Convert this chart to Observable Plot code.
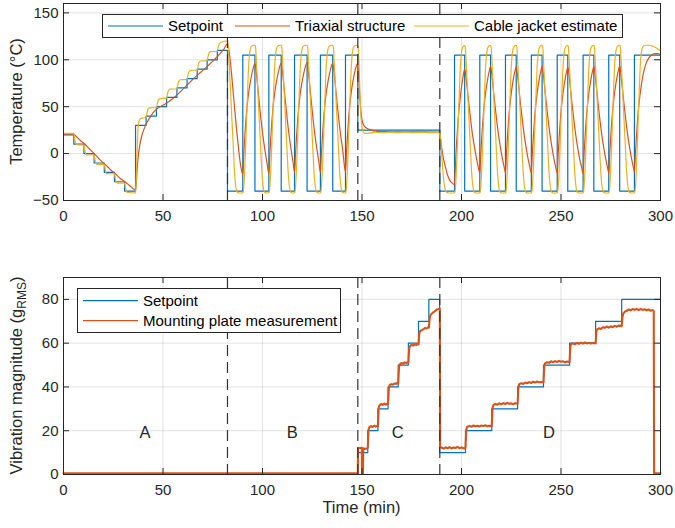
<!DOCTYPE html>
<html><head><meta charset="utf-8">
<script src="https://cdn.jsdelivr.net/npm/d3@7"></script>
<script src="https://cdn.jsdelivr.net/npm/@observablehq/plot@0.6"></script>
<style>
body{margin:0;background:#fff;}
#wrap{position:relative;width:675px;height:528px;font-family:"Liberation Sans",Arial,Helvetica,sans-serif;}
#wrap svg{position:absolute;left:0;overflow:visible;}
</style></head><body><div id="wrap"></div>
<script>
// ---------- data ----------
const timeTicks = [0, 50, 100, 150, 200, 250, 300];
const tempTicks = [-50, 0, 50, 100, 150];
const vibTicks = [0, 20, 40, 60, 80];
const phaseBounds = [82.4, 147.9, 189.1];
const phaseNames = ["A", "B", "C", "D"];
const phaseNameT = [41, 115, 168, 244];
const phaseNameV = [19, 19, 19, 19];
const tempLegend = ["Setpoint", "Triaxial structure", "Cable jacket estimate"];
const vibLegend = ["Setpoint", "Mounting plate measurement"];

const tempSetpoint = [
[0,20],[5.2,10],[10.3,0],[15.4,-10],[20.5,-20],[25.6,-30],[30.7,-40],
[36.2,30],[41.5,40],[46.7,50],[51.8,60],[57.0,70],[62.1,80],[67.2,90],[72.2,100],[77.3,110],
[82.4,-40],[90.1,105],[96.2,-40],[103.2,105],[109.4,-40],[116.1,105],[122.4,-40],[129.1,105],[135.3,-40],[141.7,105],
[147.9,25],
[189.1,-40],[196.5,105],[201.6,-40],[209.2,105],[214.6,-40],[222.1,105],[227.5,-40],[235.1,105],[240.5,-40],[248.1,105],[253.4,-40],[261.1,105],[266.5,-40],[274.0,105],[279.5,-40],[286.9,105],[300,105]
];

const triaxial = [
[0,20.5],[2,21],[4.4,21],[5.5,20],[7,17],[8.5,14],[10.2,11],[12,7.5],[13.5,4],[15.2,0.5],[17,-3.5],[18.5,-7],[20.2,-10.5],[22,-13.5],[23.5,-17],[25.2,-20],[27,-23.5],[28.5,-26.5],[30.2,-29],[32,-32],[34,-35.5],[35.4,-38],[36.2,-38.5],
[36.6,-31],[37.0,-17],[37.6,-2],[38.5,11],[39.5,20],[41.0,29],[43.0,37],[45.0,43.5],[47.5,48.5],[50.4,52],[53,55.5],[55.4,59.5],[58,64.5],[60.4,69.5],[63,75],[65.4,80],[68,85],[70.5,89.5],[73,94.5],[75.5,99.7],[78,105],[80.5,111],[82.4,117],
[83,112],[84,95],[85,72],[86,48],[87,25],[88,5],[88.7,-8],[89.3,-16],[90.1,-22],
[90.6,0],[91.1,18],[91.6,34],[92.1,47],[93.1,66],[94.1,79],[95.1,89],[96.2,96],
[96.7,90],[97.2,80],[98.2,58],[99.2,37],[100.2,19],[101.2,4],[102.2,-9],[103.2,-21],
[103.7,0],[104.2,18],[104.7,34],[105.2,47],[106.2,66],[107.2,79],[108.2,89],[109.4,96.5],
[109.9,90],[110.4,80],[111.4,58],[112.4,37],[113.4,19],[114.4,4],[115.4,-10],[116.1,-20],
[116.6,0],[117.1,18],[117.6,34],[118.1,47],[119.1,66],[120.1,79],[121.1,89],[122.4,97],
[122.9,90],[123.4,80],[124.4,58],[125.4,37],[126.4,19],[127.4,4],[128.4,-10],[129.1,-20],
[129.6,0],[130.1,18],[130.6,34],[131.1,47],[132.1,66],[133.1,79],[134.1,89],[135.3,96.5],
[135.8,90],[136.3,80],[137.3,58],[138.3,37],[139.3,19],[140.3,4],[141.0,-10],[141.7,-20],
[142.2,1],[142.7,19],[143.2,35],[143.7,48],[144.7,67],[145.7,80],[146.7,90],[147.9,96.5],
[148.3,85],[148.7,68],[149.1,54],[149.5,44],[150,36],[150.7,31],[151.5,28.5],[152.5,27],[154,25.5],[156,24.3],[160,23.5],[170,23.2],[180,23.2],[189.1,23],
[189.6,14],[190.2,4],[191,-6],[192,-15],[193,-23],[194,-28],[195,-31],[196.5,-33],
[197,-10],[197.5,10],[198,27],[198.5,41],[199.5,62],[200.5,78],[201.6,90],
[202.1,84],[202.6,75],[203.6,55],[204.6,36],[205.6,19],[206.6,6],[207.6,-6],[208.6,-16],[209.2,-21],
[209.7,0],[210.2,18],[210.7,34],[211.2,47],[212.2,66],[213.2,80],[214.2,90],[214.6,93],
[215.1,87],[215.6,77],[216.6,56],[217.6,37],[218.6,20],[219.6,6],[220.6,-6],[221.6,-16],[222.1,-21],
[222.6,0],[223.1,18],[223.6,34],[224.1,47],[225.1,66],[226.1,80],[227.1,90],[227.5,93],
[228,87],[228.5,77],[229.5,56],[230.5,37],[231.5,20],[232.5,6],[233.5,-6],[234.5,-16],[235.1,-21],
[235.6,0],[236.1,18],[236.6,34],[237.1,47],[238.1,66],[239.1,80],[240.1,90],[240.5,93],
[241,87],[241.5,77],[242.5,56],[243.5,37],[244.5,20],[245.5,6],[246.5,-6],[247.5,-16],[248.1,-21],
[248.6,0],[249.1,18],[249.6,34],[250.1,47],[251.1,66],[252.1,80],[253.1,90],[253.4,92.5],
[253.9,87],[254.4,77],[255.4,56],[256.4,37],[257.4,20],[258.4,6],[259.4,-6],[260.4,-15],[261.1,-21],
[261.6,0],[262.1,18],[262.6,34],[263.1,47],[264.1,66],[265.1,80],[266.1,90],[266.5,93],
[267,87],[267.5,77],[268.5,56],[269.5,37],[270.5,20],[271.5,6],[272.5,-6],[273.5,-16],[274,-21],
[274.5,0],[275,18],[275.5,34],[276,47],[277,66],[278,80],[279,90],[279.5,93.5],
[280,87],[280.5,77],[281.5,56],[282.5,37],[283.5,20],[284.5,6],[285.5,-6],[286.5,-16],[286.9,-20],
[287.4,0],[287.9,18],[288.4,34],[288.9,47],[289.9,66],[290.9,80],[291.9,90],[292.9,97],[294,101.5],[295.5,105],[297,106.5],[298.5,106.5],[299.6,106]
];

const jacket = [
[0,21.5],[5.2,21.5],[5.6,16],[6.1,11.5],[6.8,9.5],[10.3,9],[10.7,4],[11.2,-0.5],[11.9,-1.5],[15.4,-1.5],[15.8,-6],[16.3,-10.5],[17,-11.5],[20.5,-11.5],[20.9,-16],[21.4,-20.5],[22.1,-21.5],[25.6,-21.5],[26,-26],[26.5,-30.5],[27.2,-31.5],[30.7,-31.5],[31.1,-36],[31.6,-40.5],[32.3,-41.5],[36.2,-42],
[36.6,-25],[37.0,5],[37.4,25],[37.9,34],[38.8,37.5],[41.5,38.5],[41.9,43],[42.4,47],[43.2,48.7],[46.7,49],[47.1,53],[47.6,57],[48.4,58.7],[51.8,59],[52.2,63],[52.7,67],[53.5,68.7],[57.0,69],[57.4,73],[57.9,77],[58.7,78.7],[62.1,79],[62.5,83],[63.0,87],[63.8,88.7],[67.2,89],[67.6,93],[68.1,97],[68.9,98.7],[72.2,99],[72.6,103],[73.1,107],[73.9,108.7],[77.3,109],[77.7,113],[78.2,116.5],[79,118.5],[82.4,120],
[82.7,117],[83.2,98],[83.9,68],[84.6,38],[85.3,8],[85.9,-18],[86.4,-32],[86.9,-39],[87.4,-41.5],[88.1,-42],[90.1,-42],
[90.4,-40],[90.9,-25],[91.4,0],[91.9,30],[92.4,60],[92.9,88],[93.4,104],[93.9,111.5],[94.6,114.5],[95.6,115.5],[96.2,115.5],
[96.5,113.5],[97.0,95],[97.7,65],[98.4,35],[99.1,5],[99.7,-20],[100.2,-33],[100.7,-39.5],[101.2,-41.5],[101.9,-42],[103.2,-42],
[103.5,-40],[104.0,-25],[104.5,0],[105.0,30],[105.5,60],[106.0,88],[106.5,104],[107.0,111.5],[107.7,114.5],[108.7,115.5],[109.4,115.5],
[109.7,113.5],[110.2,95],[110.9,65],[111.6,35],[112.3,5],[112.9,-20],[113.4,-33],[113.9,-39.5],[114.4,-41.5],[115.1,-42],[116.1,-42],
[116.4,-40],[116.9,-25],[117.4,0],[117.9,30],[118.4,60],[118.9,88],[119.4,104],[119.9,111.5],[120.6,114.5],[121.6,115.5],[122.4,115.5],
[122.7,113.5],[123.2,95],[123.9,65],[124.6,35],[125.3,5],[125.9,-20],[126.4,-33],[126.9,-39.5],[127.4,-41.5],[128.1,-42],[129.1,-42],
[129.4,-40],[129.9,-25],[130.4,0],[130.9,30],[131.4,60],[131.9,88],[132.4,104],[132.9,111.5],[133.6,114.5],[134.6,115.5],[135.3,115.5],
[135.6,113.5],[136.1,95],[136.8,65],[137.5,35],[138.2,5],[138.8,-20],[139.3,-33],[139.8,-39.5],[140.3,-41.5],[141.0,-42],[141.7,-42],
[142.0,-40],[142.5,-25],[143.0,0],[143.5,30],[144.0,60],[144.5,88],[145.0,104],[145.5,111.5],[146.2,114.5],[147.2,115.5],[147.9,115],
[148.2,110],[148.6,90],[149,62],[149.4,42],[149.8,31],[150.3,25],[151,22],[152,21.5],[154,22],[156,22.8],[160,22.2],[164,22.8],[168,22.3],[172,22.8],[176,22.3],[180,22.7],[184,22.3],[189.1,22.5],
[189.5,15],[190,0],[190.5,-15],[191,-27],[191.5,-35],[192,-39.5],[192.7,-41.5],[193.5,-42],[196.5,-42],
[196.8,-40],[197.3,-25],[197.8,0],[198.3,30],[198.8,60],[199.3,88],[199.8,104],[200.3,111.5],[201.0,114.5],[201.6,115],
[201.9,113],[202.4,95],[203.1,65],[203.8,35],[204.5,5],[205.1,-20],[205.6,-33],[206.1,-39.5],[206.6,-41.5],[207.3,-42],[209.2,-42],
[209.5,-40],[210.0,-25],[210.5,0],[211.0,30],[211.5,60],[212.0,88],[212.5,104],[213.0,111.5],[213.7,114.5],[214.6,115.5],
[214.9,113.5],[215.4,95],[216.1,65],[216.8,35],[217.5,5],[218.1,-20],[218.6,-33],[219.1,-39.5],[219.6,-41.5],[220.3,-42],[222.1,-42],
[222.4,-40],[222.9,-25],[223.4,0],[223.9,30],[224.4,60],[224.9,88],[225.4,104],[225.9,111.5],[226.6,114.5],[227.5,115.5],
[227.8,113.5],[228.3,95],[229.0,65],[229.7,35],[230.4,5],[231.0,-20],[231.5,-33],[232.0,-39.5],[232.5,-41.5],[233.2,-42],[235.1,-42],
[235.4,-40],[235.9,-25],[236.4,0],[236.9,30],[237.4,60],[237.9,88],[238.4,104],[238.9,111.5],[239.6,114.5],[240.5,115.5],
[240.8,113.5],[241.3,95],[242.0,65],[242.7,35],[243.4,5],[244.0,-20],[244.5,-33],[245.0,-39.5],[245.5,-41.5],[246.2,-42],[248.1,-42],
[248.4,-40],[248.9,-25],[249.4,0],[249.9,30],[250.4,60],[250.9,88],[251.4,104],[251.9,111.5],[252.6,114.5],[253.4,115.5],
[253.7,113.5],[254.2,95],[254.9,65],[255.6,35],[256.3,5],[256.9,-20],[257.4,-33],[257.9,-39.5],[258.4,-41.5],[259.1,-42],[261.1,-42],
[261.4,-40],[261.9,-25],[262.4,0],[262.9,30],[263.4,60],[263.9,88],[264.4,104],[264.9,111.5],[265.6,114.5],[266.5,115.5],
[266.8,113.5],[267.3,95],[268.0,65],[268.7,35],[269.4,5],[270.0,-20],[270.5,-33],[271.0,-39.5],[271.5,-41.5],[272.2,-42],[274.0,-42],
[274.3,-40],[274.8,-25],[275.3,0],[275.8,30],[276.3,60],[276.8,88],[277.3,104],[277.8,111.5],[278.5,114.5],[279.5,115.5],
[279.8,113.5],[280.3,95],[281.0,65],[281.7,35],[282.4,5],[283.0,-20],[283.5,-33],[284.0,-39.5],[284.5,-41.5],[285.2,-42],[286.9,-42],
[287.2,-40],[287.7,-25],[288.2,0],[288.7,30],[289.2,60],[289.7,88],[290.2,104],[290.7,111.5],[291.4,114.5],[292.4,115.5],[294,115.5],[296,114.5],[298,112.5],[299.6,110]
];

const vibSetpoint = [
[0,0],[147.9,10],[152.9,20],[158.0,30],[163.1,40],[168.2,50],[173.3,60],[178.4,70],[183.6,80],
[189.0,10],[202.0,20],[215.2,30],[228.2,40],[241.2,50],[254.3,60],[267.4,70],[280.5,80],[300,80]
];

const plateMeas = [
[0,0.6],[147.9,0.6],[148.0,12],[149.9,12.2],[150.0,0.6],[150.5,0.6],[150.6,12],[151.5,11.7],[152.9,12.1],
[153.3,20.5],[153.7,21.6],[154.5,22.1],[155.3,21.7],[156.1,22.3],[156.9,21.9],[157.6,22.2],[158.0,22],
[158.4,30.5],[158.8,31.6],[159.6,32.2],[160.4,31.8],[161.2,32.4],[162,31.9],[162.7,32.3],[163.1,32.1],
[163.5,39.5],[163.9,40.8],[164.7,41.3],[165.5,41],[166.3,41.6],[167.1,41.4],[167.8,41.9],[168.2,41.7],
[168.6,49],[169,50.3],[169.8,50.9],[170.6,50.6],[171.4,51.2],[172.2,50.9],[172.9,51.3],[173.3,51.1],
[173.7,57.5],[174.1,58.6],[174.9,59.2],[175.7,58.9],[176.5,59.4],[177.3,59.2],[178,59.6],[178.4,59.4],
[178.8,64.5],[179.2,65.5],[180,66],[180.8,66.3],[181.6,66.9],[182.4,66.7],[183.2,67.2],[183.6,67.1],
[184,71.5],[184.4,72.8],[185.2,73.6],[186,74.2],[186.8,74.7],[187.6,75.4],[188.4,75.6],[189.1,75.8],
[189.3,12.5],[190,12.3],[191,11.8],[192,12.4],[193,12],[194,12.5],[195,11.9],[196,12.3],[197,12.1],[198,12.6],[199,12],[200,12.4],[201,11.9],[202,12.2],
[202.4,20.5],[202.8,21.7],[204,22.2],[205,21.8],[206,22.4],[207,22],[208,22.3],[209,21.9],[210,22.4],[211,22.1],[212,22.5],[213,22],[214,22.3],[215.2,22.1],
[215.6,30.5],[216,31.7],[217,32.2],[218,31.9],[219,32.5],[220,32.1],[221,32.6],[222,32.2],[223,32.7],[224,32.3],[225,32.5],[226,32.1],[227,32.6],[228.2,32.3],
[228.6,40],[229,41.3],[230,41.7],[231,41.4],[232,42],[233,41.7],[234,42.2],[235,41.8],[236,42.4],[237,42],[238,42.5],[239,42.1],[240,42.3],[241.2,42],
[241.6,49.5],[242,50.8],[243,51.3],[244,51],[245,51.7],[246,51.3],[247,51.8],[248,51.4],[249,51.9],[250,51.5],[251,51.7],[252,51.2],[253,51.6],[254.3,51.3],
[254.7,58.5],[255.1,59.6],[256,59.9],[257,59.5],[258,60.1],[259,59.7],[260,60.2],[261,59.8],[262,60.3],[263,59.9],[264,60.2],[265,59.8],[266,60.1],[267.4,59.9],
[267.8,65.5],[268.2,66.3],[269,66.8],[270,66.5],[271,67.3],[272,67],[273,67.6],[274,67.1],[275,67.7],[276,67.3],[277,67.9],[278,67.5],[279,68],[280.5,67.8],
[280.9,72],[281.3,73.5],[282,74.3],[283,74.8],[284,75.4],[285,75],[286,75.6],[287,75.2],[288,75.7],[289,75.1],[290,75.6],[291,75.2],[292,75.5],[293,75],[294,75.4],[295,74.8],[296,75.1],[296.6,74.7],
[296.8,0.6],[300,0.6]
];

// ---------- styling ----------
const FONT = '"Liberation Sans", Arial, Helvetica, sans-serif';
const AX = "#262626";
const BLUE = "#0072BD", ORANGE = "#D95319", YELLOW = "#EDB120";
const W = 675, ML = 63, MR = 15;
const PW = W - ML - MR; // plot width
const PH = 197;         // plot height
const TICK = 6;

function gridMarks(yTicks) {
  return [
    Plot.ruleX(timeTicks, {x: d => d, stroke: AX, strokeOpacity: 0.13}),
    Plot.ruleY(yTicks, {y: d => d, stroke: AX, strokeOpacity: 0.13}),
  ];
}
function tickMarks(yTicks) {
  return [
    Plot.ruleX(timeTicks, {x: d => d, insetTop: PH - TICK, stroke: AX}),
    Plot.ruleX(timeTicks, {x: d => d, insetBottom: PH - TICK, stroke: AX}),
    Plot.ruleY(yTicks, {y: d => d, insetRight: PW - TICK, stroke: AX}),
    Plot.ruleY(yTicks, {y: d => d, insetLeft: PW - TICK, stroke: AX}),
    Plot.frame({stroke: AX}),
    Plot.axisX(timeTicks, {tickSize: 0, tickPadding: 10, fontSize: 15, label: null}),
    Plot.axisY(yTicks, {tickSize: 0, tickPadding: 5, fontSize: 15, label: null}),
  ];
}
function dashMarks() {
  return Plot.ruleX(phaseBounds, {x: d => d, stroke: "#333", strokeWidth: 1.2, strokeDasharray: "11,6"});
}

const wrap = document.getElementById("wrap");

// ---------- top panel ----------
const topSvg = Plot.plot({
  width: W, height: 230, marginLeft: ML, marginRight: MR, marginTop: 3, marginBottom: 30,
  style: {fontFamily: FONT, fontSize: "15px", color: AX, background: "transparent"},
  x: {domain: [0, 300], label: null},
  y: {domain: [-50, 160], label: null},
  marks: [
    ...gridMarks(tempTicks),
    Plot.line(tempSetpoint, {x: d => d[0], y: d => d[1], curve: "step-after", stroke: BLUE, strokeWidth: 1.2}),
    Plot.line(triaxial, {x: d => d[0], y: d => d[1], curve: "monotone-x", stroke: ORANGE, strokeWidth: 1.2}),
    Plot.line(jacket, {x: d => d[0], y: d => d[1], curve: "monotone-x", stroke: YELLOW, strokeWidth: 1.2}),
    dashMarks(),
    ...tickMarks(tempTicks)
  ]
});
topSvg.style.top = "0px";
wrap.appendChild(topSvg);

// ---------- bottom panel ----------
const botSvg = Plot.plot({
  width: W, height: 298, marginLeft: ML, marginRight: MR, marginTop: 47, marginBottom: 54,
  style: {fontFamily: FONT, fontSize: "15px", color: AX, background: "transparent"},
  x: {domain: [0, 300], label: null},
  y: {domain: [0, 90], label: null},
  marks: [
    ...gridMarks(vibTicks),
    Plot.line(vibSetpoint, {x: d => d[0], y: d => d[1], curve: "step-after", stroke: BLUE, strokeWidth: 1.2}),
    Plot.line(plateMeas, {x: d => d[0], y: d => d[1], stroke: ORANGE, strokeWidth: 2.1}),
    dashMarks(),
    Plot.text(phaseNames, {x: (d, i) => phaseNameT[i], y: (d, i) => phaseNameV[i], text: d => d, fontSize: 16.5, fill: AX}),
    ...tickMarks(vibTicks)
  ]
});
botSvg.style.top = "230px";
wrap.appendChild(botSvg);

// ---------- labels & legends (SVG text) ----------
const sTop = d3.select(topSvg), sBot = d3.select(botSvg);

sTop.append("text").attr("transform", "translate(22,101.5) rotate(-90)")
  .attr("text-anchor", "middle").attr("fill", AX).style("font-size", "16.5px").style("font-family", FONT)
  .text("Temperature (°C)");

const vl = sBot.append("text").attr("transform", "translate(22,145.5) rotate(-90)")
  .attr("text-anchor", "middle").attr("fill", AX).style("font-size", "16.5px").style("font-family", FONT);
vl.append("tspan").text("Vibration magnitude (g");
vl.append("tspan").text("RMS").style("font-size", "12px").attr("dy", 4);
vl.append("tspan").text(")").attr("dy", -4);

sBot.append("text").attr("x", 361.5).attr("y", 283).attr("text-anchor", "middle").attr("fill", AX)
  .style("font-size", "16.5px").style("font-family", FONT).text("Time (min)");

function legendEntry(sel, x1, y, color, label) {
  sel.append("line").attr("x1", x1).attr("x2", x1 + 55).attr("y1", y).attr("y2", y)
    .attr("stroke", color).attr("stroke-width", 1.2);
  sel.append("text").attr("x", x1 + 60).attr("y", y).attr("dy", "0.35em").attr("fill", "#000")
    .attr("text-anchor", "start")
    .style("font-size", "15px").style("font-family", FONT).text(label);
}
// top legend
sTop.append("rect").attr("x", 102.5).attr("y", 14.5).attr("width", 520).attr("height", 23)
  .attr("fill", "#fff").attr("stroke", AX).attr("stroke-width", 1);
const tColors = [BLUE, ORANGE, YELLOW];
const tX = [108, 235, 414];
tempLegend.forEach((lab, i) => legendEntry(sTop, tX[i], 26, tColors[i], lab));
// bottom legend
sBot.append("rect").attr("x", 77.5).attr("y", 58.5).attr("width", 263).attr("height", 44)
  .attr("fill", "#fff").attr("stroke", AX).attr("stroke-width", 1);
const bColors = [BLUE, ORANGE];
const bY = [70.7, 90.7];
vibLegend.forEach((lab, i) => legendEntry(sBot, 83, bY[i], bColors[i], lab));
</script>
</body></html>
